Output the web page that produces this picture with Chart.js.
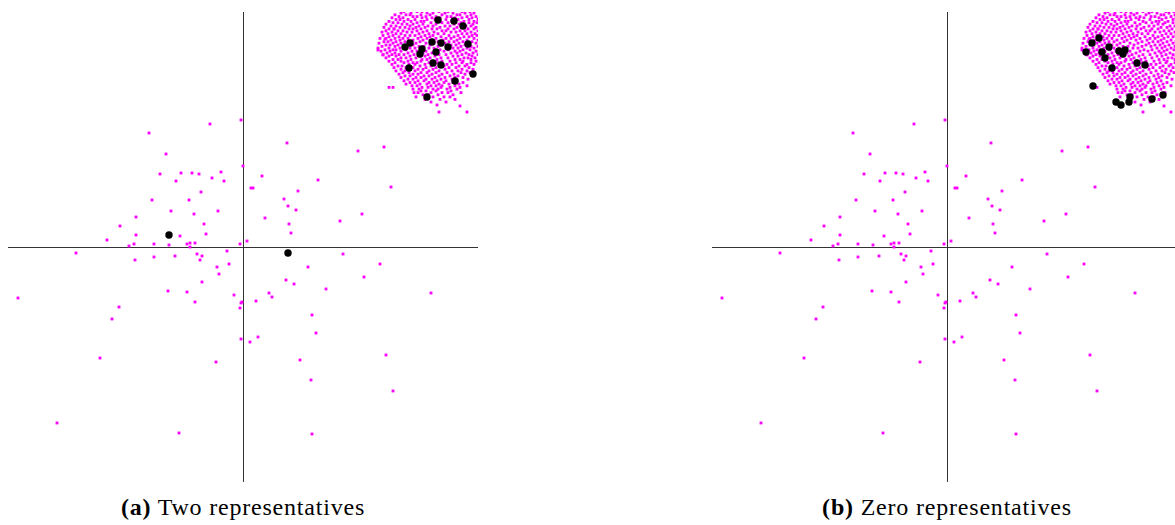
<!DOCTYPE html>
<html>
<head>
<meta charset="utf-8">
<script src="https://cdn.jsdelivr.net/npm/chart.js@4"></script>
<style>
  body { margin: 0; width: 1175px; height: 525px; overflow: hidden; background: #fff; position: relative; }
  .panel { position: absolute; top: 12px; width: 470px; height: 470px; }
  .cap { position: absolute; top: 494px; width: 470px; text-align: center; font-family: "Liberation Serif", serif; font-size: 24px; letter-spacing: 0.8px; color: #000; white-space: nowrap; }
</style>
</head>
<body>
<div class="panel" style="left:8px"><canvas id="chartA" width="470" height="470"></canvas></div>
<div class="panel" style="left:712px"><canvas id="chartB" width="470" height="470"></canvas></div>
<div class="cap" style="left:8px"><b>(a)</b> Two representatives</div>
<div class="cap" style="left:712px"><b>(b)</b> Zero representatives</div>
<script>
// axis half-range (both axes symmetric round the origin)
var HALF = 235;

// scattered points, away from the dense group
var spread = [
    [-2,127], [-33,123], [-94,114], [-77,93], [0,81], [-83,73], [-62,74], [-51,74], [-44,73], [-22,75],
    [-31,69], [-67,66], [-19,66], [-42,55], [-91,47], [-54,47], [-72,36], [-25,36], [-49,33], [-107,30],
    [-39,23], [-123,21], [-107,12], [-63,11], [-37,13], [-136,7], [-114,1], [-109,3], [-89,3], [-74,2],
    [-56,3], [-53,4], [-48,4], [-53,0], [-3,3], [4,6],
    [44,104], [115,96], [141,100], [19,71], [75,67], [8,59], [10,59], [148,60], [55,56], [41,48],
    [45,41], [53,37], [22,29], [97,26], [119,33], [46,23], [48,14],
    [-167,-6], [-108,-13], [-89,-10], [-68,-9], [-46,-7], [-41,-9], [-43,-13], [-16,-4], [-26,-20], [-14,-17],
    [-24,-27], [-41,-35], [-225,-51], [-75,-44], [-56,-45], [-9,-48], [-48,-55], [-1,-55], [-2,-56], [-3,-61],
    [-124,-60], [-131,-72], [-2,-92], [7,-95], [-143,-111], [-27,-115], [-186,-176], [-64,-186],
    [100,-7], [137,-17], [65,-20], [121,-30], [43,-33], [51,-37], [83,-42], [26,-46], [29,-50], [188,-46],
    [13,-54], [69,-68], [73,-86], [15,-90], [143,-108], [57,-113], [68,-133], [150,-144], [69,-187],
    [196,135], [224,135], [142,208], [151,218], [135,197], [140,192], [194,142], [217,141]
];

// dense group, top right: [y, [x, x, ...]]
var clusterRows = [
    [238.4, [170, 181, 199, 207]],
    [237.1, [164, 188, 193, 214, 224]],
    [235.3, [161, 174, 179, 196, 205, 219, 227]],
    [233.9, [158, 168, 184, 190, 202, 210, 222, 231]],
    [232.2, [152, 163, 167, 178, 187, 199, 214, 217, 228]],
    [230.4, [156, 170, 174, 183, 193, 204, 208, 224, 233]],
    [229.2, [149, 160, 179, 189, 197, 212, 219, 229]],
    [227.5, [153, 157, 165, 172, 184, 192, 203, 215, 226, 235]],
    [225.6, [146, 161, 168, 178, 181, 196, 209, 212, 221, 231]],
    [224.3, [150, 155, 174, 188, 199, 205, 218, 226, 234]],
    [222.8, [143, 159, 164, 170, 180, 193, 211, 216, 230]],
    [221.0, [148, 153, 167, 176, 185, 190, 202, 207, 223, 228]],
    [219.6, [141, 157, 162, 173, 182, 197, 214, 220, 233]],
    [218.1, [146, 151, 166, 170, 178, 189, 194, 205, 211, 225, 231]],
    [216.2, [143, 155, 160, 174, 184, 199, 203, 217, 222, 235]],
    [214.9, [139, 149, 164, 169, 180, 191, 208, 213, 228]],
    [213.3, [145, 153, 158, 176, 186, 195, 201, 219, 224, 232]],
    [211.5, [140, 150, 162, 167, 172, 182, 190, 206, 215, 229, 234]],
    [210.2, [146, 156, 178, 187, 198, 211, 221, 226]],
    [208.6, [137, 143, 152, 160, 165, 175, 184, 193, 203, 208, 217, 231]],
    [206.9, [148, 157, 170, 180, 189, 200, 214, 224, 235]],
    [205.3, [141, 145, 153, 162, 167, 177, 195, 206, 211, 220, 229]],
    [203.8, [136, 150, 158, 173, 183, 191, 202, 216, 226, 233]],
    [202.0, [143, 147, 155, 165, 170, 187, 199, 208, 213, 222]],
    [200.6, [139, 152, 161, 176, 181, 195, 204, 218, 228, 235]],
    [198.9, [135, 146, 157, 167, 172, 186, 191, 210, 215, 224, 231]],
    [197.2, [142, 150, 153, 163, 178, 197, 205, 220, 227]],
    [195.8, [138, 147, 158, 169, 174, 183, 193, 201, 212, 217, 233]],
    [194.0, [144, 152, 165, 180, 189, 208, 214, 223, 230]],
    [192.4, [140, 149, 156, 161, 171, 185, 196, 203, 219, 226, 235]],
    [190.9, [146, 153, 167, 177, 182, 192, 210, 215, 229]],
    [189.1, [143, 158, 163, 173, 187, 198, 205, 221, 225, 232]],
    [187.5, [150, 155, 168, 179, 184, 194, 212, 217, 228]],
    [185.8, [146, 158, 165, 178, 190, 199, 207, 220, 233]],
    [184.3, [152, 161, 170, 174, 186, 195, 213, 219, 228]],
    [182.6, [149, 166, 172, 182, 192, 204, 209, 224, 231]],
    [181.0, [155, 159, 177, 188, 197, 201, 216, 222]],
    [179.4, [151, 163, 170, 183, 193, 206, 213, 226]],
    [177.7, [158, 167, 175, 180, 190, 202, 219, 230]],
    [176.1, [153, 162, 172, 186, 196, 209, 215, 224]],
    [174.4, [160, 166, 178, 184, 193, 204, 218, 227]],
    [172.8, [156, 170, 175, 189, 199, 211, 222]],
    [171.1, [162, 167, 181, 186, 196, 207, 215]],
    [169.5, [158, 173, 178, 192, 202, 212, 220]],
    [167.8, [165, 170, 183, 189, 198, 209, 225]],
    [166.2, [161, 175, 181, 194, 203, 214]],
    [164.5, [167, 172, 186, 191, 201, 210, 220]],
    [162.9, [163, 177, 184, 196, 206, 216]],
    [161.2, [169, 174, 188, 193, 199, 212, 224]],
    [159.6, [146, 150, 179, 185, 198, 207, 217]],
    [157.9, [170, 176, 190, 195, 204, 214]],
    [156.1, [178, 183, 193, 208]],
    [154.4, [171, 175, 188, 199, 205, 218]],
    [152.2, [180, 185, 195, 210]],
    [150.1, [173, 190, 201, 207]],
    [147.6, [182, 197, 212]],
    [145.0, [188, 203]]
];

// black points: representatives in (a), none away from the group in (b)
var repsA = [
    [195,227], [211,226], [220,221], [167,204], [162,200], [189,205], [198,204], [205,200], [225,203], [179,198],
    [177,193], [193,195], [190,184], [198,182], [166,179], [230,173], [212,166], [184,150],
    [-74,12], [45,-6]
];
var repsB = [
    [152,209], [145,204], [139,195], [162,200], [155,195], [158,189], [172,196], [178,197], [176,193], [165,179],
    [190,184], [198,182], [146,161], [169,145], [174,142], [183,150], [182,145], [205,148], [216,152]
];

var cloud = spread.map(function (p) { return {x: p[0], y: p[1]}; });
clusterRows.forEach(function (row) {
    row[1].forEach(function (x) { cloud.push({x: x, y: row[0]}); });
});

function axisOpts() {
    return {
        type: 'linear',
        min: -HALF,
        max: HALF,
        ticks: {display: false, stepSize: HALF},
        border: {display: false},
        grid: {
            drawTicks: false,
            lineWidth: 1,
            color: function (c) { return c.tick && c.tick.value === 0 ? '#333' : 'rgba(0,0,0,0)'; }
        }
    };
}

function makeChart(id, reps) {
    var ctx = document.getElementById(id).getContext('2d');
    return new Chart(ctx, {
        type: 'scatter',
        data: {
            datasets: [{
                label: 'representatives',
                data: reps.map(function (p) { return {x: p[0], y: p[1]}; }),
                backgroundColor: '#000',
                borderWidth: 0,
                pointRadius: 3.7,
                order: 0
            }, {
                label: 'points',
                data: cloud,
                backgroundColor: '#ff00ff',
                borderWidth: 0,
                pointStyle: 'rect',
                pointRadius: 2,
                order: 1
            }]
        },
        options: {
            responsive: false,
            animation: false,
            events: [],
            layout: {padding: 0, autoPadding: false},
            plugins: {legend: {display: false}, tooltip: {enabled: false}},
            scales: {x: axisOpts(), y: axisOpts()}
        }
    });
}

var chartA = makeChart('chartA', repsA);
var chartB = makeChart('chartB', repsB);
</script>
</body>
</html>
